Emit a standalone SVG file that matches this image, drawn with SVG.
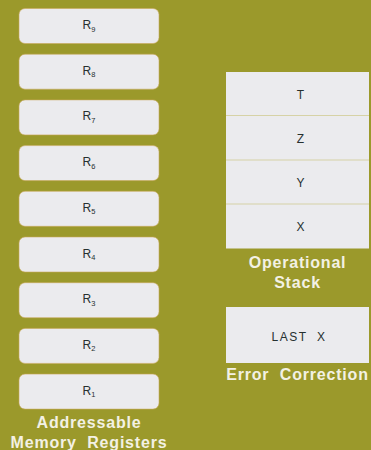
<svg xmlns="http://www.w3.org/2000/svg" width="371" height="450" viewBox="0 0 371 450">
<style>
.bg{fill:#9b992b}
.reg{fill:#ebebee;stroke:#c9a85a;stroke-width:0.6}
.stk{fill:#ebebee}
.div{stroke:#d6d2a6;stroke-width:1.2}
.lbl{font-family:"Liberation Sans",Arial,sans-serif;font-size:12px;fill:#263030;text-anchor:middle}
.sub{font-size:7.5px}
.ttl{font-family:"Liberation Sans",Arial,sans-serif;font-weight:bold;font-size:16px;fill:#f3f1e4;text-anchor:middle;letter-spacing:0.8px;white-space:pre}
</style>
<rect class="bg" x="0" y="0" width="371" height="450"/>
<g id="registers">
<g id="R9"><rect class="reg" x="19" y="8.5" width="140" height="35" rx="6"/><text class="lbl" x="89" y="29">R<tspan class="sub" dy="2.5">9</tspan></text></g>
<g id="R8"><rect class="reg" x="19" y="54.2" width="140" height="35" rx="6"/><text class="lbl" x="89" y="74.7">R<tspan class="sub" dy="2.5">8</tspan></text></g>
<g id="R7"><rect class="reg" x="19" y="99.9" width="140" height="35" rx="6"/><text class="lbl" x="89" y="120.4">R<tspan class="sub" dy="2.5">7</tspan></text></g>
<g id="R6"><rect class="reg" x="19" y="145.6" width="140" height="35" rx="6"/><text class="lbl" x="89" y="166.1">R<tspan class="sub" dy="2.5">6</tspan></text></g>
<g id="R5"><rect class="reg" x="19" y="191.3" width="140" height="35" rx="6"/><text class="lbl" x="89" y="211.8">R<tspan class="sub" dy="2.5">5</tspan></text></g>
<g id="R4"><rect class="reg" x="19" y="237" width="140" height="35" rx="6"/><text class="lbl" x="89" y="257.5">R<tspan class="sub" dy="2.5">4</tspan></text></g>
<g id="R3"><rect class="reg" x="19" y="282.7" width="140" height="35" rx="6"/><text class="lbl" x="89" y="303.2">R<tspan class="sub" dy="2.5">3</tspan></text></g>
<g id="R2"><rect class="reg" x="19" y="328.4" width="140" height="35" rx="6"/><text class="lbl" x="89" y="348.9">R<tspan class="sub" dy="2.5">2</tspan></text></g>
<g id="R1"><rect class="reg" x="19" y="374.1" width="140" height="35" rx="6"/><text class="lbl" x="89" y="394.6">R<tspan class="sub" dy="2.5">1</tspan></text></g>
<text class="ttl" x="89" y="428">Addressable</text>
<text class="ttl" x="89" y="448">Memory  Registers</text>
</g>
<g id="stack">
<g id="T"><rect class="stk" x="226" y="72" width="143" height="44"/><text class="lbl" x="300.5" y="99">T</text></g>
<g id="Z"><rect class="stk" x="226" y="116" width="143" height="44"/><text class="lbl" x="300.5" y="143">Z</text></g>
<g id="Y"><rect class="stk" x="226" y="160" width="143" height="44"/><text class="lbl" x="300.5" y="187">Y</text></g>
<g id="X"><rect class="stk" x="226" y="204" width="143" height="44.5"/><text class="lbl" x="300.5" y="231">X</text></g>
<text class="ttl" x="297.5" y="268">Operational</text>
<text class="ttl" x="297.5" y="288">Stack</text>
</g>
<g id="connectors">
<line class="div" x1="226" y1="115.5" x2="369" y2="115.5"/>
<line class="div" x1="226" y1="160" x2="369" y2="160"/>
<line class="div" x1="226" y1="204" x2="369" y2="204"/>
</g>
<g id="lastx">
<rect class="stk" x="226" y="307" width="143" height="56"/>
<text class="lbl" x="299" y="340.5" style="letter-spacing:1.5px;white-space:pre">LAST  X</text>
<text class="ttl" x="297.5" y="380">Error  Correction</text>
</g>
</svg>
